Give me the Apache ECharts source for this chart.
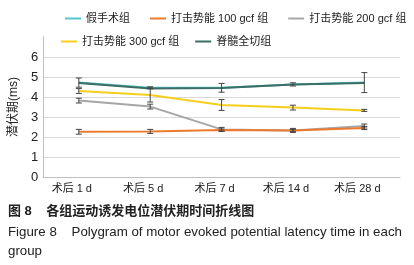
<!DOCTYPE html>
<html>
<head>
<meta charset="utf-8">
<script src="https://cdn.jsdelivr.net/npm/echarts@6/dist/echarts.min.js"></script>
<style>
html,body{margin:0;padding:0;background:#fff;}
#main{width:414px;height:265px;}
</style>
</head>
<body>
<div id="main"></div>
<script>
var days=['术后 1 d','术后 5 d','术后 7 d','术后 14 d','术后 28 d'];
var yTicks=[0,1,2,3,4,5,6,7];
//各组均值
var sham=[4.72,4.46,4.46,4.63,4.72];
var g100=[2.26,2.28,2.35,2.33,2.45];
var g200=[3.82,3.52,2.38,2.33,2.55];
var g300=[4.30,4.10,3.60,3.47,3.33];
var trans=[4.70,4.43,4.45,4.62,4.70];
//标准差
var shamErr=[0.23,0.05,0.22,0.08,0.50];
var g100Err=[0.12,0.10,0.05,0.10,0.08];
var g200Err=[0.12,0.12,0.10,0.05,0.10];
var g300Err=[0.12,0.35,0.27,0.12,0.05];

var names=['假手术组','打击势能 100 gcf 组','打击势能 200 gcf 组','打击势能 300 gcf 组','脊髓全切组'];
var colors=['#58c4cd','#ec7a2e','#a6a6a6','#f5cf1c','#3b6e64'];
var font='Liberation Sans, Noto Sans CJK SC';

function errData(mean,err){
	var arr=[];
	for(var i=0;i<mean.length;i++){
		arr.push([i,mean[i]-err[i],mean[i]+err[i]]);
	}
	return arr;
}
function renderErr(params,api){
	var lo=api.coord([api.value(0),api.value(1)]);
	var hi=api.coord([api.value(0),api.value(2)]);
	var w=3;
	var st={stroke:'#444',lineWidth:1};
	return {type:'group',children:[
		{type:'line',shape:{x1:lo[0],y1:lo[1],x2:hi[0],y2:hi[1]},style:st},
		{type:'line',shape:{x1:lo[0]-w,y1:lo[1],x2:lo[0]+w,y2:lo[1]},style:st},
		{type:'line',shape:{x1:hi[0]-w,y1:hi[1],x2:hi[0]+w,y2:hi[1]},style:st}
	]};
}
function lineS(i,data){
	return {name:names[i],type:'line',data:data,symbol:'none',
		lineStyle:{width:2,color:colors[i]},itemStyle:{color:colors[i]},z:2};
}
function errS(mean,err){
	return {type:'custom',renderItem:renderErr,data:errData(mean,err),z:5,silent:true};
}

var myChart=echarts.init(document.getElementById('main'));
var legendText={fontSize:11,color:'#222',fontFamily:font};
var gridColors=['#d9d9d9','#d9d9d9','#d9d9d9','#d9d9d9','#d9d9d9','#d9d9d9','#d9d9d9','rgba(0,0,0,0)'];
var option={
	animation:false,
	legend:[
		{data:[names[0],names[1],names[2]],left:60,top:8,itemWidth:16,itemHeight:2,icon:'rect',itemGap:20,textStyle:legendText},
		{data:[names[3],names[4]],left:56,top:31,itemWidth:16,itemHeight:2,icon:'rect',itemGap:16,textStyle:legendText}
	],
	grid:{left:40,right:14,top:37,height:140},
	xAxis:{
		type:'category',data:days,boundaryGap:true,
		axisLine:{lineStyle:{color:'#bfbfbf'}},
		axisTick:{show:false},
		axisLabel:{fontSize:11,color:'#222',margin:6,padding:[0,14,0,0],fontFamily:font}
	},
	yAxis:{
		type:'value',min:yTicks[0],max:yTicks[yTicks.length-1],interval:1,
		name:'潜伏期(ms)',nameLocation:'middle',nameGap:12,
		nameTextStyle:{fontSize:12,color:'#222',fontFamily:font},
		axisLine:{show:true,lineStyle:{color:'#bfbfbf'}},
		axisLabel:{fontSize:13,color:'#222',margin:5,fontFamily:font,formatter:function(v){return v==7?'':v;}},
		splitLine:{lineStyle:{color:gridColors}}
	},
	series:[
		lineS(2,g200),
		lineS(1,g100),
		lineS(3,g300),
		lineS(0,sham),
		lineS(4,trans),
		errS(sham,shamErr),
		errS(g100,g100Err),
		errS(g200,g200Err),
		errS(g300,g300Err)
	],
	graphic:[
		{type:'text',left:8,top:205,style:{text:'图 8    各组运动诱发电位潜伏期时间折线图',fontSize:13,fontWeight:'bold',fill:'#222',fontFamily:font}},
		{type:'text',left:8,top:226,style:{text:'Figure 8    Polygram of motor evoked potential latency time in each',fontSize:13.3,fill:'#222',fontFamily:font}},
		{type:'text',left:8,top:245,style:{text:'group',fontSize:13.3,fill:'#222',fontFamily:font}}
	]
};
myChart.setOption(option);
</script>
</body>
</html>
